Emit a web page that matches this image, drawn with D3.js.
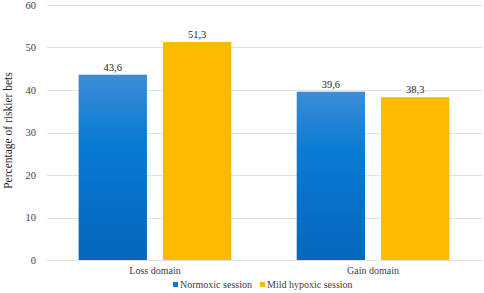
<!DOCTYPE html>
<html>
<head>
<meta charset="utf-8">
<script src="https://cdn.jsdelivr.net/npm/d3@7"></script>
</head>
<body style="margin:0; background:#fff">
<svg id="chart" width="484" height="293"></svg>
<script>
const categories = ["Loss domain", "Gain domain"];
const seriesNames = ["Normoxic session", "Mild hypoxic session"];
const normoxic = [43.6, 39.6];
const hypoxic = [51.3, 38.3];
const yTicks = [0, 10, 20, 30, 40, 50, 60];

const FONT = "Liberation Serif";
const svg = d3.select("#chart");
const margin = { left: 47, right: 3, top: 5, bottom: 33 };
const W = 484, H = 293;

const x0 = d3.scaleBand()
    .domain(categories)
    .range([margin.left, W - margin.right])
    .paddingInner(0.3)
    .paddingOuter(0.145);

const x1 = d3.scaleBand()
    .domain(seriesNames)
    .range([0, x0.bandwidth()])
    .paddingInner(0.19);

const y = d3.scaleLinear()
    .domain([0, 60])
    .range([H - margin.bottom, margin.top]);

// gradient for the blue bars
const defs = svg.append("defs");
const grad = defs.append("linearGradient")
    .attr("id", "blueGrad")
    .attr("x1", 0).attr("y1", 0).attr("x2", 0).attr("y2", 1);
grad.append("stop").attr("offset", "0%").attr("stop-color", "#3d8dd5");
grad.append("stop").attr("offset", "35%").attr("stop-color", "#0a7bd3");
grad.append("stop").attr("offset", "100%").attr("stop-color", "#0566bd");

const color = d3.scaleOrdinal()
    .domain(seriesNames)
    .range(["url(#blueGrad)", "#ffb900"]);
const legendColor = d3.scaleOrdinal()
    .domain(seriesNames)
    .range(["#0a78d0", "#ffb900"]);

// gridlines
svg.append("g")
    .selectAll("line")
    .data(yTicks)
    .join("line")
    .attr("x1", margin.left)
    .attr("x2", W - 1)
    .attr("y1", d => Math.round(y(d)) + 0.5)
    .attr("y2", d => Math.round(y(d)) + 0.5)
    .attr("stroke", "#e3e3e3")
    .attr("stroke-width", 1);

// y axis labels
const yAxis = svg.append("g")
    .attr("transform", `translate(${margin.left},0)`)
    .call(d3.axisLeft(y).tickValues(yTicks).tickSize(0).tickPadding(11));
yAxis.select(".domain").remove();
yAxis.selectAll("text")
    .style("font-family", FONT)
    .style("font-size", "10.5px")
    .style("fill", "#404040");

// x axis labels
const xAxis = svg.append("g")
    .attr("transform", `translate(0,${y(0)})`)
    .call(d3.axisBottom(x0).tickSize(0).tickPadding(7));
xAxis.select(".domain").remove();
xAxis.selectAll("text")
    .style("font-family", FONT)
    .style("font-size", "10px")
    .style("fill", "#404040");

// axis title
svg.append("text")
    .attr("transform", `translate(12,${(y(0) + y(60)) / 2 - 2}) rotate(-90)`)
    .attr("text-anchor", "middle")
    .style("font-family", FONT)
    .style("font-size", "11.5px")
    .style("fill", "#262626")
    .text("Percentage of riskier bets");

// bars
const rows = categories.map((c, i) => ({
    cat: c,
    vals: [
        { key: seriesNames[0], value: normoxic[i] },
        { key: seriesNames[1], value: hypoxic[i] }
    ]
}));

const groups = svg.append("g")
    .selectAll("g")
    .data(rows)
    .join("g")
    .attr("transform", d => `translate(${x0(d.cat)},0)`);

groups.selectAll("rect")
    .data(d => d.vals)
    .join("rect")
    .attr("x", d => x1(d.key))
    .attr("width", x1.bandwidth())
    .attr("y", d => y(d.value))
    .attr("height", d => y(0) - y(d.value))
    .attr("fill", d => color(d.key));

groups.selectAll("text.val")
    .data(d => d.vals)
    .join("text")
    .attr("class", "val")
    .attr("x", d => x1(d.key) + x1.bandwidth() / 2)
    .attr("y", d => y(d.value) - 4)
    .attr("text-anchor", "middle")
    .style("font-family", FONT)
    .style("font-size", "10.5px")
    .style("fill", "#262626")
    .text(d => d.value.toFixed(1).replace(".", ","));

// legend
const legend = svg.append("g").attr("transform", "translate(0,288)");
const legendX = [173, 260];
seriesNames.forEach((s, i) => {
    legend.append("rect")
        .attr("x", legendX[i])
        .attr("y", -6)
        .attr("width", 5)
        .attr("height", 5)
        .attr("fill", legendColor(s));
    legend.append("text")
        .attr("x", legendX[i] + 7)
        .attr("y", 0)
        .style("font-family", FONT)
        .style("font-size", "10px")
        .style("fill", "#404040")
        .text(s);
});
</script>
</body>
</html>
